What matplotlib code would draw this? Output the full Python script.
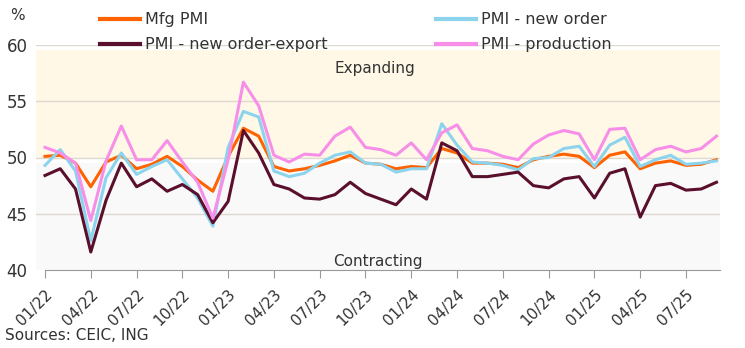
import matplotlib
matplotlib.use("Agg")
import matplotlib.pyplot as plt
import numpy as np

plt.rcParams['font.family'] = ["DejaVu Sans"]

tick_labels = ["01/22", "04/22", "07/22", "10/22", "01/23", "04/23", "07/23", "10/23",
               "01/24", "04/24", "07/24", "10/24", "01/25", "04/25", "07/25"]

mfg_pmi = [50.1, 50.2, 49.5, 47.4, 49.6, 50.2, 49.0, 49.4, 50.1, 49.2, 48.0, 47.0,
           50.1, 52.6, 51.9, 49.2, 48.8, 49.0, 49.3, 49.7, 50.2, 49.5, 49.4, 49.0,
           49.2, 49.1, 50.8, 50.4, 49.5, 49.5, 49.4, 49.1, 49.8, 50.1, 50.3, 50.1,
           49.1, 50.2, 50.5, 49.0, 49.5, 49.7, 49.3, 49.4, 49.8]
new_order = [49.3, 50.7, 48.8, 42.6, 48.2, 50.4, 48.5, 49.2, 49.8, 48.1, 46.4, 43.9,
             50.9, 54.1, 53.6, 48.8, 48.3, 48.6, 49.5, 50.2, 50.5, 49.5, 49.4, 48.7,
             49.0, 49.0, 53.0, 51.1, 49.6, 49.5, 49.3, 48.9, 49.9, 50.0, 50.8, 51.0,
             49.2, 51.1, 51.8, 49.2, 49.8, 50.2, 49.4, 49.5, 49.7]
export_order = [48.4, 49.0, 47.2, 41.6, 46.2, 49.5, 47.4, 48.1, 47.0, 47.6, 46.7, 44.2,
                46.1, 52.4, 50.4, 47.6, 47.2, 46.4, 46.3, 46.7, 47.8, 46.8, 46.3, 45.8,
                47.2, 46.3, 51.3, 50.6, 48.3, 48.3, 48.5, 48.7, 47.5, 47.3, 48.1, 48.3,
                46.4, 48.6, 49.0, 44.7, 47.5, 47.7, 47.1, 47.2, 47.8]
production = [50.9, 50.4, 49.5, 44.4, 49.7, 52.8, 49.8, 49.8, 51.5, 49.6, 47.8, 44.6,
              49.8, 56.7, 54.6, 50.2, 49.6, 50.3, 50.2, 51.9, 52.7, 50.9, 50.7, 50.2,
              51.3, 49.8, 52.2, 52.9, 50.8, 50.6, 50.1, 49.8, 51.2, 52.0, 52.4, 52.1,
              49.8, 52.5, 52.6, 49.8, 50.7, 51.0, 50.5, 50.8, 51.9]

C_ORANGE = "#FF6200"
C_BLUE = "#8CD4EE"
C_MAROON = "#5A0F2D"
C_PINK = "#F78FE8"
C_TXT = "#333333"

fig = plt.figure(figsize=(7.45, 3.48), dpi=100)
ax = fig.add_axes([36/745, (348-270)/348, (720-36)/745, 225/348])

x = np.arange(len(mfg_pmi))
ax.set_xlim(-0.59, 44.23)
ax.set_ylim(40, 60)

# background zones
ax.axhspan(50, 59.55, color="#FFF8E6", zorder=0, lw=0)
ax.axhspan(40, 49.55, color="#F9F9F9", zorder=0, lw=0)

for v in [45, 50, 55, 60]:
    ax.axhline(v, color="#DDD8D0", lw=1, zorder=1)

l1, = ax.plot(x, mfg_pmi, color=C_ORANGE, lw=2.2, zorder=3, label="Mfg PMI")
l2, = ax.plot(x, new_order, color=C_BLUE, lw=2.2, zorder=4, label="PMI - new order")
l3, = ax.plot(x, export_order, color=C_MAROON, lw=2.2, zorder=5, label="PMI - new order-export")
l4, = ax.plot(x, production, color=C_PINK, lw=2.2, zorder=6, label="PMI - production")

ax.text(21.6, 57.9, "Expanding", ha="center", va="center", fontsize=11, color=C_TXT, zorder=7)
ax.text(21.8, 40.75, "Contracting", ha="center", va="center", fontsize=11, color=C_TXT, zorder=7)

for s in ["top", "right", "left"]:
    ax.spines[s].set_visible(False)
ax.spines["bottom"].set_color("#999999")
ax.spines["bottom"].set_bounds(0, 44.2)

ax.set_yticks([40, 45, 50, 55, 60])
ax.set_yticklabels(["40", "45", "50", "55", "60"], fontsize=12, color=C_TXT)
ax.tick_params(axis="y", length=0, pad=6)

ax.set_xticks(np.arange(0, 45, 3))
ax.set_xticklabels(tick_labels, rotation=45, ha="right", rotation_mode="anchor",
                   fontsize=11, color=C_TXT)
ax.tick_params(axis="x", length=6, color="#999999", pad=6)

fig.text(10/745, 1 - 16/348, "%", fontsize=11, color=C_TXT, va="center", ha="left")
fig.text(5/745, 1 - 335/348, "Sources: CEIC, ING", fontsize=11, color=C_TXT, va="center", ha="left")

leg = fig.legend(handles=[l1, l3, l2, l4], ncol=2, frameon=False,
                 loc="upper left", bbox_to_anchor=(86/745, 1 + 2/348),
                 fontsize=11.5, handlelength=2.5, handletextpad=0.3,
                 columnspacing=6.8, labelspacing=0.62)
for t in leg.get_texts():
    t.set_color(C_TXT)
for h in leg.legend_handles:
    h.set_linewidth(3)

fig.savefig("out.png", dpi=100)
